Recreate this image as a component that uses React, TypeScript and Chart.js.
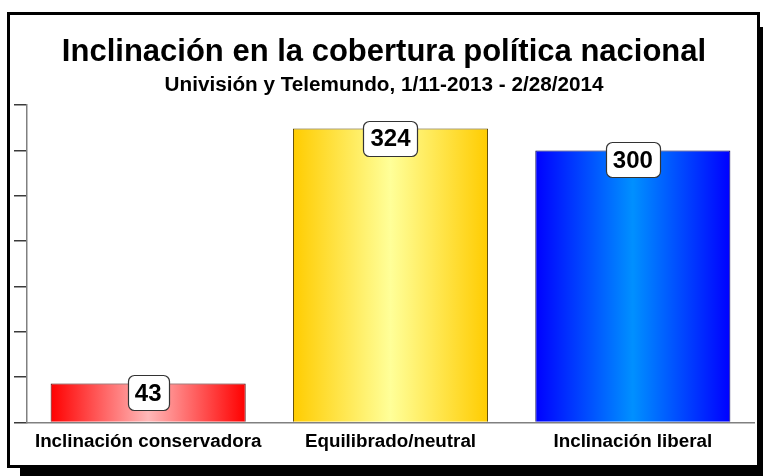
import React, { useEffect, useRef } from "react";
import { Chart, registerables } from "chart.js";

Chart.register(...registerables);

const TITLE = "Inclinación en la cobertura política nacional";
const SUBTITLE = "Univisión y Telemundo, 1/11-2013 - 2/28/2014";
const categories = ["Inclinación conservadora", "Equilibrado/neutral", "Inclinación liberal"];
const values = [43, 324, 300];
const edgeColors = ["#ff0000", "#ffcc00", "#0000ff"];
const midColors = ["#ffb8b8", "#ffff99", "#0090ff"];
const borderColors = ["#4a0000", "#5a4600", "#00004a"];
const yMin = 0;
const yMax = 350;
const yStep = 50;

const FONT = "'Liberation Sans', Arial, Helvetica, sans-serif";
const BAR_PCT = 0.805;

const framePlugin = {
  id: "frame",
  beforeDraw(chart: any) {
    const ctx = chart.ctx;
    ctx.save();
    ctx.fillStyle = "#ffffff";
    ctx.fillRect(0, 0, chart.width, chart.height);
    ctx.fillStyle = "#000000";
    ctx.fillRect(20, 27, 760, 460);
    ctx.fillStyle = "#ffffff";
    ctx.fillRect(7, 12, 753, 456);
    ctx.strokeStyle = "#000000";
    ctx.lineWidth = 3;
    ctx.strokeRect(8.5, 13.5, 750, 453);
    ctx.restore();
  },
};

const labelPlugin = {
  id: "valueBoxes",
  afterDatasetsDraw(chart: any) {
    const ctx = chart.ctx;
    const meta = chart.getDatasetMeta(0);
    ctx.save();
    ctx.font = `bold 24px ${FONT}`;
    ctx.textAlign = "center";
    ctx.textBaseline = "middle";
    meta.data.forEach((el: any, i: number) => {
      const txt = String(values[i]);
      const w = ctx.measureText(txt).width + 14;
      const h = 35;
      const x = el.x - w / 2;
      const y = el.y - 8;
      ctx.beginPath();
      ctx.roundRect(Math.round(x) + 0.5, Math.round(y) + 0.5, Math.round(w), h, 6);
      ctx.fillStyle = "#ffffff";
      ctx.fill();
      ctx.lineWidth = 1.2;
      ctx.strokeStyle = "#333333";
      ctx.stroke();
      ctx.fillStyle = "#000000";
      ctx.fillText(txt, el.x, y + h / 2 + 1);
    });
    ctx.restore();
  },
};

export default function App() {
  const ref = useRef<HTMLCanvasElement | null>(null);

  useEffect(() => {
    if (!ref.current) return;
    const chart = new Chart(ref.current, {
      type: "bar",
      data: {
        labels: categories,
        datasets: [
          {
            data: values,
            backgroundColor: (c: any) => {
              const chart = c.chart;
              const i = c.dataIndex ?? 0;
              const xs = chart.scales?.x;
              if (!xs || !chart.chartArea) return edgeColors[i];
              const center = xs.getPixelForValue(i);
              const half = ((xs.width / categories.length) * BAR_PCT) / 2;
              const g = chart.ctx.createLinearGradient(center - half, 0, center + half, 0);
              g.addColorStop(0, edgeColors[i]);
              g.addColorStop(0.5, midColors[i]);
              g.addColorStop(1, edgeColors[i]);
              return g;
            },
            borderColor: borderColors,
            borderWidth: 1,
            barPercentage: BAR_PCT,
            categoryPercentage: 1,
          },
        ],
      },
      options: {
        responsive: false,
        animation: false,
        devicePixelRatio: 1,
        events: [],
        layout: { padding: { top: 0, left: 14, right: 9, bottom: 15 } },
        plugins: {
          legend: { display: false },
          tooltip: { enabled: false },
          title: {
            display: true,
            text: TITLE,
            color: "#000",
            font: { family: FONT, size: 31, weight: "bold", lineHeight: 1.2 },
            padding: { top: 34, bottom: 0 },
          },
          subtitle: {
            display: true,
            text: SUBTITLE,
            color: "#000",
            font: { family: FONT, size: 20.7, weight: "bold", lineHeight: 1.2 },
            padding: { top: 2, bottom: 7 },
          },
        },
        scales: {
          x: {
            grid: { display: false, drawTicks: false, drawOnChartArea: false },
            border: { display: true, color: "#808080", width: 1.5 },
            ticks: {
              color: "#000",
              padding: 8,
              font: { family: FONT, size: 18.8, weight: "bold", lineHeight: 1.2 },
            },
          },
          y: {
            min: yMin,
            max: yMax,
            ticks: { stepSize: yStep, display: false },
            grid: {
              display: true,
              drawOnChartArea: false,
              drawTicks: true,
              tickLength: 13,
              tickColor: "#3a3a3a",
              lineWidth: 1.5,
            },
            border: { display: true, color: "#808080", width: 1.5 },
          },
        },
      },
      plugins: [framePlugin, labelPlugin],
    });
    return () => chart.destroy();
  }, []);

  return (
    <div style={{ position: "fixed", left: 0, top: 0, width: 763, height: 476 }}>
      <canvas ref={ref} width={763} height={476} style={{ display: "block", width: 763, height: 476 }} />
    </div>
  );
}
